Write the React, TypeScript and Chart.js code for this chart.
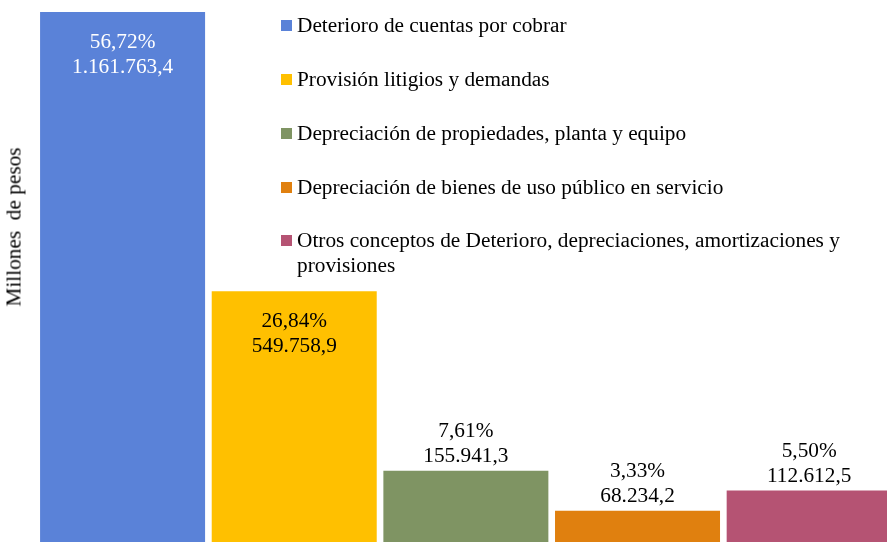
import React, { useEffect, useRef } from "react";
import { Chart, registerables } from "chart.js";

Chart.register(...registerables);

const FONT = "'Liberation Serif', 'Times New Roman', serif";

const categories = [
  "Deterioro de cuentas por cobrar",
  "Provisión litigios y demandas",
  "Depreciación de propiedades, planta y equipo",
  "Depreciación de bienes de uso público en servicio",
  "Otros conceptos de Deterioro, depreciaciones, amortizaciones y provisiones",
];
const values = [1161763.4, 549758.9, 155941.3, 68234.2, 112612.5];
const percents = ["56,72%", "26,84%", "7,61%", "3,33%", "5,50%"];
const colors = ["#5A82D8", "#FFC000", "#7F9463", "#E0800F", "#B55373"];
const labelInside = [true, true, false, false, false];
const labelColors = ["#FFFFFF", "#000000", "#000000", "#000000", "#000000"];
const yTitle = "Millones  de pesos";
const legendCenters = [25, 79.5, 133, 187, 240.5];

function formatValue(v: number): string {
  const [intPart, dec] = v.toFixed(1).split(".");
  const withDots = intPart.replace(/\B(?=(\d{3})+(?!\d))/g, ".");
  return `${withDots},${dec}`;
}

const labelPlugin = {
  id: "barLabels",
  afterDatasetsDraw(chart: any) {
    const ctx = chart.ctx;
    const meta = chart.getDatasetMeta(0);
    ctx.save();
    ctx.font = `21.3px ${FONT}`;
    ctx.textAlign = "center";
    ctx.textBaseline = "alphabetic";
    meta.data.forEach((bar: any, i: number) => {
      const { x, y } = bar.getProps(["x", "y"], true);
      const l1 = labelInside[i] ? y + 36 : y - 34;
      ctx.fillStyle = labelColors[i];
      ctx.fillText(percents[i], x, l1);
      ctx.fillText(formatValue(values[i]), x, l1 + 25);
    });
    ctx.restore();
  },
};

export default function App() {
  const canvasRef = useRef<HTMLCanvasElement | null>(null);

  useEffect(() => {
    if (!canvasRef.current) return;
    const chart = new Chart(canvasRef.current, {
      type: "bar",
      data: {
        labels: categories,
        datasets: [
          {
            data: values,
            backgroundColor: colors,
            borderWidth: 0,
            barPercentage: 0.9613,
            categoryPercentage: 1,
          },
        ],
      },
      options: {
        responsive: false,
        animation: false,
        devicePixelRatio: 1,
        layout: { padding: { left: 36.75, right: 0, top: 0, bottom: 0 } },
        plugins: {
          legend: { display: false },
          tooltip: { enabled: false },
        },
        scales: {
          x: { display: false, offset: true },
          y: { display: false, min: 0, max: 1188000 },
        },
      },
      plugins: [labelPlugin],
    });
    return () => chart.destroy();
  }, []);

  return (
    <div
      style={{
        position: "fixed",
        left: 0,
        top: 0,
        width: 887,
        height: 542,
        overflow: "hidden",
        background: "#FFFFFF",
        fontFamily: FONT,
      }}
    >
      <canvas
        ref={canvasRef}
        width={895}
        height={542}
        style={{ position: "absolute", left: 0, top: 0, width: 895, height: 542 }}
      />
      <div
        style={{
          position: "absolute",
          left: 13.5,
          top: 226.5,
          transform: "translate(-50%, -50%) rotate(-90deg)",
          whiteSpace: "pre",
          fontSize: 21.3,
          color: "#000",
        }}
      >
        {yTitle}
      </div>
      {categories.map((c, i) => (
        <div key={c}>
          <div
            style={{
              position: "absolute",
              left: 281,
              top: legendCenters[i] - 5.5,
              width: 11,
              height: 11,
              background: colors[i],
            }}
          />
          <div
            style={{
              position: "absolute",
              left: 297,
              top: legendCenters[i] - 12.5,
              width: 565,
              fontSize: 21.3,
              lineHeight: "24.5px",
              color: "#000",
            }}
          >
            {c}
          </div>
        </div>
      ))}
    </div>
  );
}
